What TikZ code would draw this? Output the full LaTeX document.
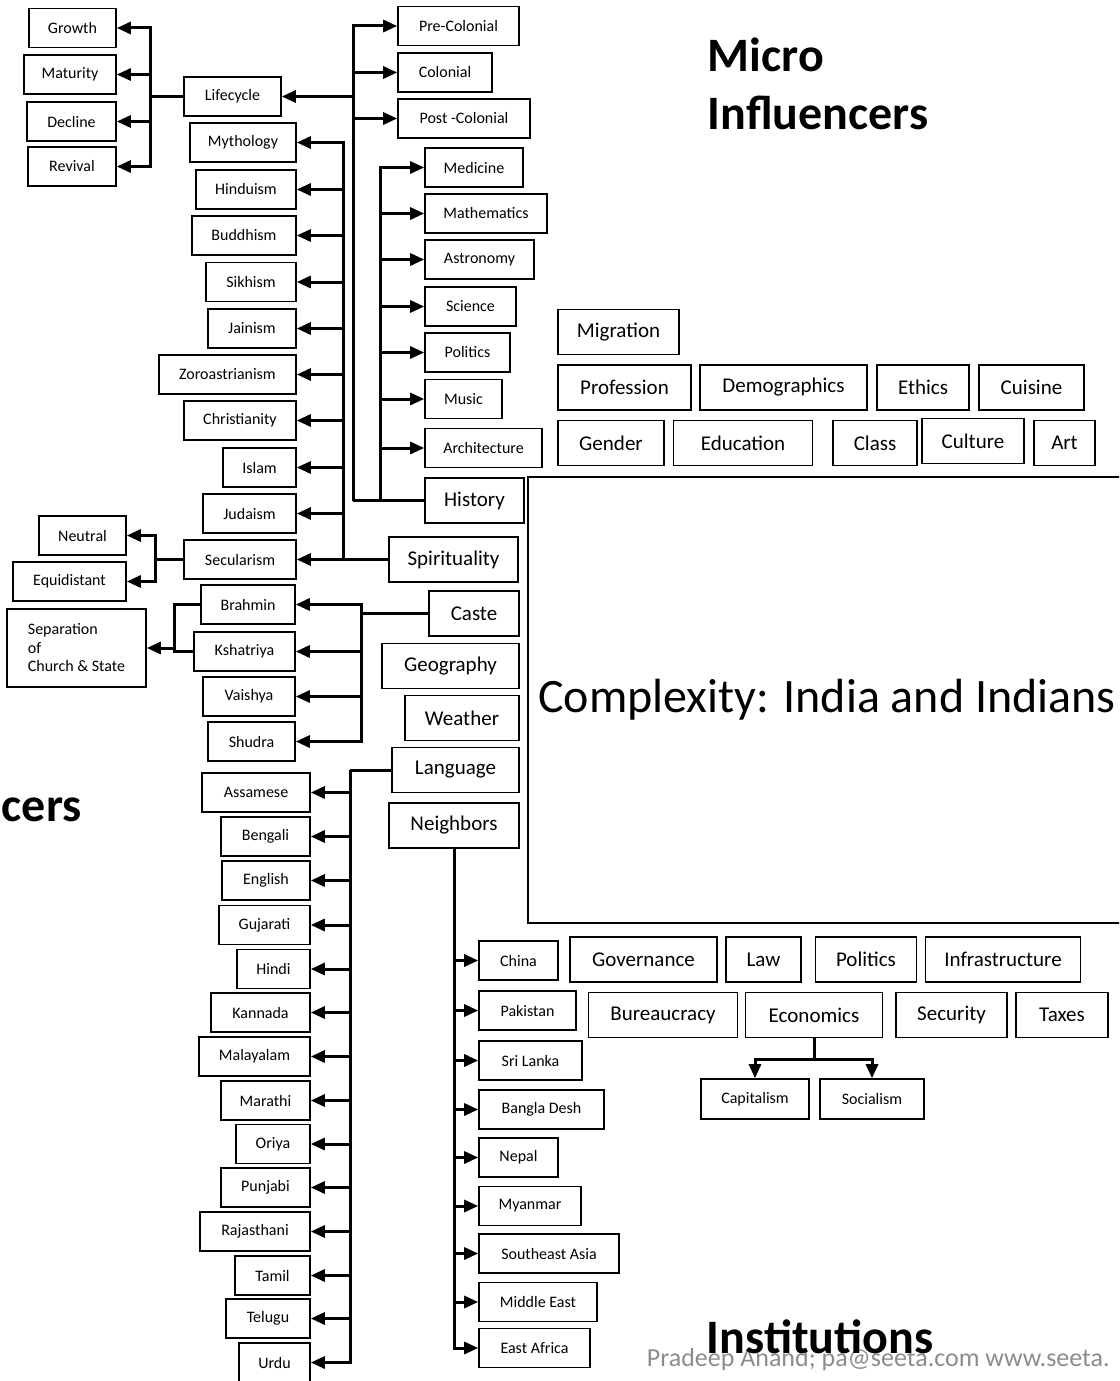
\documentclass[tikz,border=0pt]{standalone}
\usepackage{fontspec}
\setmainfont{Carlito}
\usepackage{tikz}
\usetikzlibrary{arrows.meta}

\begin{document}
\begin{tikzpicture}
  [x=1pt,y=-1pt,every node/.style={draw,rectangle,line width=1.6pt,inner sep=0pt,minimum height=39pt,font=\fontsize{16}{19}\selectfont},
   med/.style={minimum height=45pt,font=\fontsize{21}{25}\selectfont},
   big/.style={draw=none,minimum height=0pt,font=\bfseries\fontsize{48}{58}\selectfont},
   ln/.style={line width=3pt},
   arr/.style={line width=3pt,-{Triangle[length=14pt,width=12pt]}}] % y runs downwards, one unit per pixel of the slide
    \useasboundingbox (0,0) rectangle (1119,1381);
    \clip (0,0) rectangle (1119,1381);

    % lifecycle
    \node[minimum width=87pt] (growth) at (72.5,28) {Growth};
    \node[minimum width=92pt] (maturity) at (70,74.5) {Maturity};
    \node[minimum width=89pt] (decline) at (71.5,121.5) {Decline};
    \node[minimum width=88pt] (revival) at (72,166.5) {Revival};
    \node[minimum width=97pt] (lifecycle) at (232.5,96.5) {Lifecycle};

    % history
    \node[minimum width=121pt] (precolonial) at (458.5,26) {Pre-Colonial};
    \node[minimum width=94pt] (colonial) at (445,72.5) {Colonial};
    \node[minimum width=132pt] (postcolonial) at (464,118.5) {Post -Colonial};
    \node[minimum width=98pt] (medicine) at (474,167.5) {Medicine};
    \node[minimum width=122pt] (mathematics) at (486,213.5) {Mathematics};
    \node[minimum width=109pt] (astronomy) at (479.5,259.5) {Astronomy};
    \node[minimum width=91pt] (science) at (470.5,306.5) {Science};
    \node[minimum width=85pt] (hpolitics) at (467.5,352.5) {Politics};
    \node[minimum width=77pt] (music) at (463.5,399) {Music};
    \node[minimum width=117pt] (architecture) at (483.5,448) {Architecture};
    \node[med,minimum width=99pt] (history) at (474.5,500.5) {History};

    % religions
    \node[minimum width=106pt] (mythology) at (243,142.5) {Mythology};
    \node[minimum width=100pt] (hinduism) at (246,189.5) {Hinduism};
    \node[minimum width=104pt] (buddhism) at (244,235.5) {Buddhism};
    \node[minimum width=90pt] (sikhism) at (251,282) {Sikhism};
    \node[minimum width=88pt] (jainism) at (252,328.5) {Jainism};
    \node[minimum width=137pt] (zoroastrianism) at (227.5,374.5) {Zoroastrianism};
    \node[minimum width=112pt] (christianity) at (240,420.5) {Christianity};
    \node[minimum width=73pt] (islam) at (259.5,467.5) {Islam};
    \node[minimum width=93pt] (judaism) at (249.5,513.5) {Judaism};
    \node[minimum width=112pt] (secularism) at (240,559.5) {Secularism};
    \node[minimum width=87pt] (neutral) at (82.5,535.5) {Neutral};
    \node[minimum width=113pt] (equidistant) at (69.5,581.5) {Equidistant};
    \node[med,minimum width=129pt] (spirituality) at (453.5,559.5) {Spirituality};

    % castes
    \node[minimum width=94pt] (brahmin) at (248,604.5) {Brahmin};
    \node[minimum width=101pt] (kshatriya) at (244.5,651.5) {Kshatriya};
    \node[minimum width=92pt] (vaishya) at (249,696.5) {Vaishya};
    \node[minimum width=87pt] (shudra) at (251.5,741.5) {Shudra};
    \node[minimum width=139pt,minimum height=78pt,align=left,font=\fontsize{16}{18.5}\selectfont] (separation) at (76.5,648) {Separation\\of\\Church \& State};
    \node[med,minimum width=90pt] (caste) at (474,613.5) {Caste};
    \node[med,minimum width=137pt] (geography) at (450.5,666) {Geography};
    \node[med,minimum width=114pt] (weather) at (462,718) {Weather};
    \node[med,minimum width=127pt] (language) at (455.5,770) {Language};
    \node[med,minimum width=130pt] (neighbors) at (454,825.5) {Neighbors};

    % languages
    \node[minimum width=108pt] (assamese) at (256,792.5) {Assamese};
    \node[minimum width=89pt] (bengali) at (265.5,836.5) {Bengali};
    \node[minimum width=88pt] (english) at (266,880.5) {English};
    \node[minimum width=91pt] (gujarati) at (264.5,925) {Gujarati};
    \node[minimum width=73pt] (hindi) at (273.5,969) {Hindi};
    \node[minimum width=99pt] (kannada) at (260.5,1012.5) {Kannada};
    \node[minimum width=111pt] (malayalam) at (254.5,1056.5) {Malayalam};
    \node[minimum width=89pt] (marathi) at (265.5,1100.5) {Marathi};
    \node[minimum width=74pt] (oriya) at (273,1144) {Oriya};
    \node[minimum width=89pt] (punjabi) at (265.5,1187.5) {Punjabi};
    \node[minimum width=110pt] (rajasthani) at (255,1231.5) {Rajasthani};
    \node[minimum width=75pt] (tamil) at (272.5,1275.5) {Tamil};
    \node[minimum width=84pt] (telugu) at (268,1318.5) {Telugu};
    \node[minimum width=71pt] (urdu) at (274.5,1362.5) {Urdu};

    % neighbours
    \node[minimum width=79pt] (china) at (518.5,960.5) {China};
    \node[minimum width=97pt] (pakistan) at (527.5,1010.5) {Pakistan};
    \node[minimum width=103pt] (srilanka) at (530.5,1060.5) {Sri Lanka};
    \node[minimum width=125pt] (bangladesh) at (541.5,1109.5) {Bangla Desh};
    \node[minimum width=79pt] (nepal) at (518.5,1157.5) {Nepal};
    \node[minimum width=102pt] (myanmar) at (530,1206) {Myanmar};
    \node[minimum width=140pt] (seasia) at (549,1253.5) {Southeast Asia};
    \node[minimum width=118pt] (mideast) at (538,1302) {Middle East};
    \node[minimum width=111pt] (eafrica) at (534.5,1348) {East Africa};

    % micro influencers
    \node[med,minimum width=121pt] (migration) at (618.5,332) {Migration};
    \node[med,minimum width=133pt] (profession) at (624.5,387.5) {Profession};
    \node[med,minimum width=167pt] (demographics) at (783.5,387.5) {Demographics};
    \node[med,minimum width=92pt] (ethics) at (923,387.5) {Ethics};
    \node[med,minimum width=105pt] (cuisine) at (1031.5,387.5) {Cuisine};
    \node[med,minimum width=106pt] (gender) at (611,443) {Gender};
    \node[med,minimum width=139pt] (education) at (743,443) {Education};
    \node[med,minimum width=84pt] (class) at (875,443) {Class};
    \node[med,minimum width=102pt] (culture) at (973,441) {Culture};
    \node[med,minimum width=61pt] (art) at (1064.5,443) {Art};

    % institutions
    \node[med,minimum width=147pt] (governance) at (643.5,959.5) {Governance};
    \node[med,minimum width=75pt] (law) at (763.5,959.5) {Law};
    \node[med,minimum width=101pt] (ipolitics) at (866,959.5) {Politics};
    \node[med,minimum width=155pt] (infrastructure) at (1003,959.5) {Infrastructure};
    \node[med,minimum width=149pt] (bureaucracy) at (663,1015) {Bureaucracy};
    \node[med,minimum width=137pt] (economics) at (814,1015) {Economics};
    \node[med,minimum width=111pt] (security) at (951.5,1015) {Security};
    \node[med,minimum width=92pt] (taxes) at (1062,1015) {Taxes};
    \node[minimum width=108pt,minimum height=40pt] (capitalism) at (755,1099) {Capitalism};
    \node[minimum width=104pt,minimum height=40pt] (socialism) at (872,1099) {Socialism};

    % centre and titles
    \node[line width=1.5pt,minimum width=598pt,minimum height=446pt,font=\fontsize{48}{58}\selectfont] (complexity) at (827,700) {Complexity: India and Indians};
    \node[draw=none,minimum height=0pt,anchor=base west,text=black!45,font=\fontsize{26}{31}\selectfont] (footer) at (646,1366) {Pradeep Anand; pa@seeta.com www.seeta.};
    \node[big,anchor=base west] (micro) at (707,71) {Micro};
    \node[big,anchor=base west] (influencers) at (707,129) {Influencers};
    \node[big,anchor=base west] (cers) at (1,821) {cers};
    \node[big,anchor=base west] (institutions) at (706,1353) {Institutions};

    % junctions
    \coordinate (lcj) at (150,96.5);
    \coordinate (hj1) at (353,500.5);
    \coordinate (hj2) at (380,500.5);
    \coordinate (sj) at (343,559.5);
    \coordinate (secj) at (155,559.5);
    \coordinate (cj) at (361,613.5);
    \coordinate (sepj) at (174,648);
    \coordinate (lj) at (350,770);
    \coordinate (ej) at (814,1059);

    \draw[ln] (lifecycle.west) -- (lcj);
    \draw[arr] (lcj) |- (growth.east);
    \draw[arr] (lcj) |- (maturity.east);
    \draw[arr] (lcj) |- (decline.east);
    \draw[arr] (lcj) |- (revival.east);

    \draw[ln] (history.west) -- (hj1);
    \draw[arr] (hj1) |- (precolonial.west);
    \draw[arr] (hj1) |- (colonial.west);
    \draw[arr] (hj1) |- (postcolonial.west);
    \draw[arr] (hj1) |- (lifecycle.east);
    \draw[arr] (hj2) |- (medicine.west);
    \draw[arr] (hj2) |- (mathematics.west);
    \draw[arr] (hj2) |- (astronomy.west);
    \draw[arr] (hj2) |- (science.west);
    \draw[arr] (hj2) |- (hpolitics.west);
    \draw[arr] (hj2) |- (music.west);
    \draw[arr] (hj2) |- (architecture.west);

    \draw[ln] (spirituality.west) -- (sj);
    \draw[arr] (sj) |- (mythology.east);
    \draw[arr] (sj) |- (hinduism.east);
    \draw[arr] (sj) |- (buddhism.east);
    \draw[arr] (sj) |- (sikhism.east);
    \draw[arr] (sj) |- (jainism.east);
    \draw[arr] (sj) |- (zoroastrianism.east);
    \draw[arr] (sj) |- (christianity.east);
    \draw[arr] (sj) |- (islam.east);
    \draw[arr] (sj) |- (judaism.east);
    \draw[arr] (sj) -- (secularism.east);
    \draw[ln] (secularism.west) -- (secj);
    \draw[arr] (secj) |- (neutral.east);
    \draw[arr] (secj) |- (equidistant.east);

    \draw[ln] (caste.west) -- (cj);
    \draw[arr] (cj) |- (brahmin.east);
    \draw[arr] (cj) |- (kshatriya.east);
    \draw[arr] (cj) |- (vaishya.east);
    \draw[arr] (cj) |- (shudra.east);
    \draw[ln] (brahmin.west) -| (sepj);
    \draw[ln] (kshatriya.west) -| (sepj);
    \draw[arr] (sepj) -- (separation.east);

    \draw[ln] (language.west) -- (lj);
    \draw[arr] (lj) |- (assamese.east);
    \draw[arr] (lj) |- (bengali.east);
    \draw[arr] (lj) |- (english.east);
    \draw[arr] (lj) |- (gujarati.east);
    \draw[arr] (lj) |- (hindi.east);
    \draw[arr] (lj) |- (kannada.east);
    \draw[arr] (lj) |- (malayalam.east);
    \draw[arr] (lj) |- (marathi.east);
    \draw[arr] (lj) |- (oriya.east);
    \draw[arr] (lj) |- (punjabi.east);
    \draw[arr] (lj) |- (rajasthani.east);
    \draw[arr] (lj) |- (tamil.east);
    \draw[arr] (lj) |- (telugu.east);
    \draw[arr] (lj) |- (urdu.east);

    \draw[arr] (neighbors.south) |- (china.west);
    \draw[arr] (neighbors.south) |- (pakistan.west);
    \draw[arr] (neighbors.south) |- (srilanka.west);
    \draw[arr] (neighbors.south) |- (bangladesh.west);
    \draw[arr] (neighbors.south) |- (nepal.west);
    \draw[arr] (neighbors.south) |- (myanmar.west);
    \draw[arr] (neighbors.south) |- (seasia.west);
    \draw[arr] (neighbors.south) |- (mideast.west);
    \draw[arr] (neighbors.south) |- (eafrica.west);

    \draw[ln] (economics.south) -- (ej);
    \draw[arr] (ej) -| (capitalism.north);
    \draw[arr] (ej) -| (socialism.north);

\end{tikzpicture}
\end{document}
